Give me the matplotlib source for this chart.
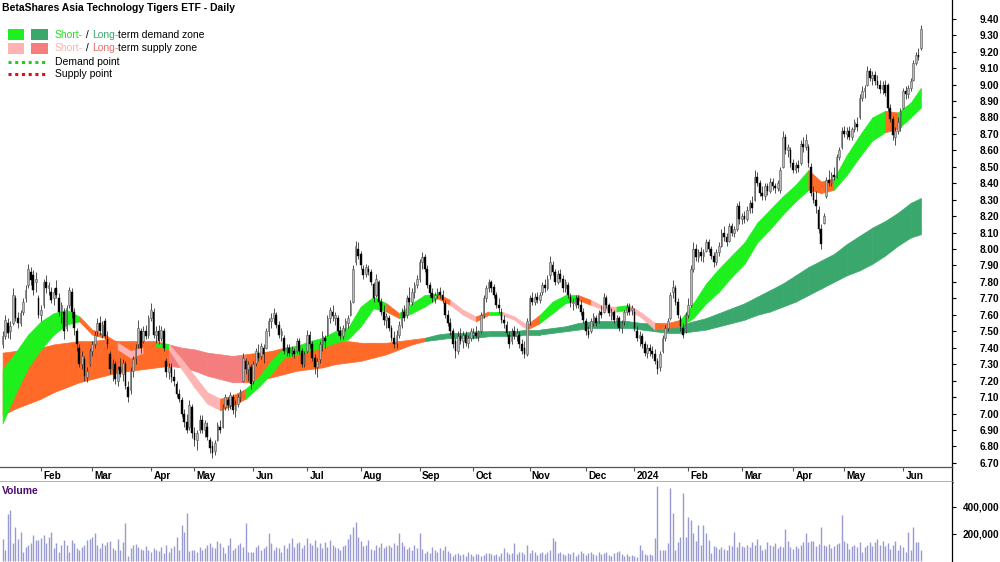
import matplotlib
matplotlib.use("Agg")
import matplotlib.pyplot as plt
from matplotlib.lines import Line2D
from matplotlib.patches import Rectangle
import numpy as np
import pandas as pd

plt.rcParams["font.family"] = ["Liberation Sans", "DejaVu Sans"]

# daily candles, one row of values per month (Jan 2023 .. Jun 2024)
OPEN = [
    7.42, 7.47, 7.55, 7.50, 7.55, 7.70, 7.58, 7.55, 7.62, 7.70, 7.78, 7.86, 7.84, 7.80, 7.70,
    7.60, 7.66, 7.80, 7.76, 7.74, 7.70, 7.76, 7.70, 7.62, 7.62, 7.52, 7.66, 7.74, 7.62, 7.50, 7.40, 7.30, 7.33, 7.22, 7.30,
    7.38, 7.42, 7.50, 7.55, 7.48, 7.56, 7.45, 7.36, 7.27, 7.30, 7.20, 7.28, 7.24, 7.30, 7.16, 7.14, 7.26, 7.34, 7.42, 7.50, 7.44, 7.50, 7.48,
    7.58, 7.62, 7.48, 7.50, 7.46, 7.50, 7.32, 7.25, 7.28, 7.22, 7.18, 7.12, 7.08, 7.00, 6.95, 6.92, 7.04,
    6.88, 6.84, 6.90, 6.96, 6.90, 6.92, 6.84, 6.80, 6.77, 6.84, 6.92, 6.92, 7.04, 7.08, 7.05, 7.10, 7.02, 7.06, 7.10, 7.20, 7.32, 7.27, 7.28,
    7.20, 7.31, 7.37, 7.35, 7.40, 7.40, 7.50, 7.56, 7.58, 7.60, 7.54, 7.48, 7.46, 7.38, 7.40, 7.37, 7.38, 7.38, 7.44, 7.38, 7.30,
    7.38, 7.48, 7.42, 7.34, 7.28, 7.33, 7.42, 7.46, 7.48, 7.58, 7.62, 7.58, 7.58, 7.50, 7.47, 7.52, 7.55, 7.60, 7.68, 7.92, 8.00,
    7.97, 7.88, 7.85, 7.88, 7.86, 7.79, 7.72, 7.80, 7.68, 7.62, 7.57, 7.58, 7.52, 7.46, 7.43, 7.48, 7.54, 7.62, 7.60, 7.70, 7.68, 7.74, 7.78,
    7.82, 7.92, 7.95, 7.88, 7.78, 7.73, 7.70, 7.72, 7.74, 7.72, 7.67, 7.60, 7.55, 7.50, 7.44, 7.38, 7.47, 7.44, 7.48, 7.43, 7.46,
    7.48, 7.49, 7.47, 7.50, 7.60, 7.70, 7.76, 7.80, 7.77, 7.72, 7.66, 7.62, 7.57, 7.54, 7.48, 7.44, 7.50, 7.47, 7.48, 7.42, 7.40, 7.36,
    7.56, 7.70, 7.68, 7.71, 7.69, 7.74, 7.78, 7.76, 7.84, 7.90, 7.86, 7.80, 7.85, 7.82, 7.76, 7.78, 7.71, 7.67, 7.66, 7.70, 7.66, 7.62,
    7.56, 7.50, 7.50, 7.55, 7.58, 7.56, 7.62, 7.62, 7.70, 7.66, 7.60, 7.62, 7.56, 7.58, 7.52, 7.56, 7.62, 7.65, 7.63,
    7.62, 7.50, 7.46, 7.47, 7.42, 7.37, 7.40, 7.38, 7.36, 7.32, 7.28, 7.38, 7.46, 7.52, 7.58, 7.74, 7.76, 7.68, 7.58, 7.52, 7.50,
    7.60, 7.66, 7.88, 8.00, 7.95, 7.98, 7.96, 7.99, 8.04, 8.00, 7.96, 7.92, 7.98, 8.02, 8.10, 8.07, 8.05, 8.14, 8.10, 8.12, 8.26,
    8.18, 8.20, 8.18, 8.24, 8.28, 8.30, 8.44, 8.40, 8.34, 8.32, 8.38, 8.35, 8.41, 8.38, 8.37, 8.36, 8.50, 8.68, 8.60, 8.60,
    8.52, 8.48, 8.51, 8.52, 8.64, 8.62, 8.62, 8.50, 8.34, 8.30, 8.24, 8.12, 8.16, 8.32, 8.42, 8.40, 8.45, 8.44,
    8.56, 8.62, 8.72, 8.70, 8.72, 8.68, 8.73, 8.76, 8.80, 8.92, 8.96, 9.00, 9.08, 9.04, 9.06, 9.02, 9.00, 8.97, 9.00, 9.00, 8.86, 8.79, 8.68,
    8.72, 8.74, 8.86, 8.96, 8.94, 8.98, 9.03, 9.13, 9.18, 9.22,
]
HIGH = [
    7.50, 7.60, 7.58, 7.56, 7.76, 7.72, 7.62, 7.63, 7.70, 7.78, 7.91, 7.89, 7.87, 7.86, 7.72,
    7.66, 7.82, 7.84, 7.80, 7.77, 7.76, 7.81, 7.73, 7.68, 7.64, 7.66, 7.77, 7.76, 7.64, 7.52, 7.42, 7.38, 7.35, 7.28, 7.40,
    7.44, 7.50, 7.58, 7.59, 7.56, 7.58, 7.50, 7.38, 7.33, 7.32, 7.29, 7.34, 7.33, 7.32, 7.20, 7.28, 7.35, 7.42, 7.57, 7.52, 7.53, 7.54, 7.60,
    7.67, 7.64, 7.53, 7.54, 7.53, 7.52, 7.34, 7.31, 7.31, 7.27, 7.20, 7.15, 7.10, 7.03, 7.00, 7.08, 7.06,
    6.92, 6.90, 6.99, 6.99, 6.96, 6.95, 6.86, 6.83, 6.84, 6.95, 6.96, 7.06, 7.12, 7.10, 7.13, 7.12, 7.08, 7.12, 7.15, 7.37, 7.34, 7.32, 7.30,
    7.32, 7.40, 7.42, 7.43, 7.42, 7.52, 7.58, 7.61, 7.64, 7.62, 7.56, 7.52, 7.48, 7.42, 7.42, 7.41, 7.40, 7.46, 7.46, 7.40, 7.38,
    7.51, 7.50, 7.44, 7.36, 7.34, 7.44, 7.50, 7.48, 7.60, 7.65, 7.66, 7.62, 7.60, 7.53, 7.54, 7.58, 7.60, 7.69, 7.90, 8.05, 8.04,
    7.99, 7.90, 7.91, 7.90, 7.88, 7.80, 7.85, 7.81, 7.70, 7.66, 7.61, 7.60, 7.54, 7.50, 7.51, 7.56, 7.64, 7.66, 7.72, 7.77, 7.76, 7.80, 7.84,
    7.94, 7.98, 7.97, 7.90, 7.80, 7.76, 7.74, 7.76, 7.77, 7.75, 7.69, 7.63, 7.58, 7.52, 7.46, 7.50, 7.52, 7.50, 7.50, 7.48, 7.52,
    7.52, 7.53, 7.51, 7.62, 7.72, 7.78, 7.82, 7.81, 7.79, 7.74, 7.70, 7.64, 7.60, 7.56, 7.50, 7.52, 7.53, 7.52, 7.50, 7.45, 7.44, 7.58,
    7.72, 7.74, 7.73, 7.74, 7.74, 7.80, 7.82, 7.84, 7.96, 7.93, 7.88, 7.87, 7.88, 7.84, 7.82, 7.80, 7.73, 7.70, 7.72, 7.72, 7.69, 7.64,
    7.58, 7.53, 7.58, 7.61, 7.60, 7.63, 7.66, 7.73, 7.72, 7.67, 7.64, 7.63, 7.60, 7.59, 7.57, 7.63, 7.67, 7.67, 7.66,
    7.64, 7.53, 7.50, 7.49, 7.44, 7.42, 7.42, 7.41, 7.39, 7.34, 7.38, 7.48, 7.54, 7.58, 7.74, 7.81, 7.78, 7.70, 7.60, 7.55, 7.62,
    7.70, 7.90, 8.04, 8.03, 8.00, 8.01, 8.00, 8.06, 8.06, 8.02, 7.98, 8.00, 8.04, 8.12, 8.14, 8.10, 8.16, 8.16, 8.14, 8.28, 8.29,
    8.22, 8.23, 8.26, 8.30, 8.32, 8.48, 8.47, 8.42, 8.38, 8.40, 8.40, 8.43, 8.43, 8.40, 8.42, 8.50, 8.72, 8.70, 8.64, 8.62,
    8.55, 8.53, 8.54, 8.66, 8.68, 8.70, 8.64, 8.52, 8.38, 8.35, 8.26, 8.15, 8.22, 8.44, 8.48, 8.47, 8.50, 8.58,
    8.62, 8.74, 8.75, 8.74, 8.75, 8.74, 8.79, 8.80, 8.94, 8.99, 9.00, 9.11, 9.10, 9.08, 9.08, 9.06, 9.03, 9.02, 9.03, 9.01, 8.88, 8.81, 8.74,
    8.80, 8.86, 8.98, 8.99, 9.00, 9.04, 9.15, 9.20, 9.22, 9.36,
]
LOW = [
    7.40, 7.45, 7.46, 7.45, 7.54, 7.56, 7.52, 7.53, 7.60, 7.68, 7.76, 7.78, 7.72, 7.74, 7.58,
    7.56, 7.64, 7.73, 7.72, 7.67, 7.66, 7.70, 7.59, 7.55, 7.45, 7.50, 7.64, 7.58, 7.48, 7.38, 7.28, 7.27, 7.20, 7.19, 7.29,
    7.35, 7.40, 7.47, 7.48, 7.46, 7.45, 7.40, 7.24, 7.20, 7.18, 7.17, 7.22, 7.20, 7.15, 7.07, 7.12, 7.22, 7.30, 7.40, 7.37, 7.43, 7.45, 7.46,
    7.56, 7.46, 7.43, 7.42, 7.44, 7.38, 7.22, 7.21, 7.19, 7.17, 7.10, 7.07, 6.98, 6.92, 6.88, 6.90, 6.85,
    6.80, 6.78, 6.88, 6.88, 6.86, 6.84, 6.76, 6.73, 6.75, 6.83, 6.88, 6.91, 7.02, 7.02, 7.03, 7.00, 6.98, 7.04, 7.07, 7.19, 7.24, 7.20, 7.15,
    7.18, 7.29, 7.32, 7.33, 7.31, 7.39, 7.47, 7.52, 7.55, 7.52, 7.46, 7.44, 7.36, 7.35, 7.35, 7.35, 7.34, 7.37, 7.36, 7.28, 7.28,
    7.37, 7.40, 7.32, 7.24, 7.22, 7.31, 7.38, 7.40, 7.47, 7.55, 7.56, 7.54, 7.48, 7.45, 7.45, 7.50, 7.52, 7.59, 7.67, 7.90, 7.94,
    7.88, 7.82, 7.83, 7.84, 7.78, 7.68, 7.71, 7.66, 7.60, 7.54, 7.52, 7.50, 7.44, 7.40, 7.40, 7.46, 7.52, 7.56, 7.58, 7.66, 7.66, 7.70, 7.76,
    7.80, 7.88, 7.86, 7.76, 7.71, 7.68, 7.67, 7.70, 7.70, 7.67, 7.58, 7.53, 7.48, 7.40, 7.34, 7.36, 7.42, 7.40, 7.41, 7.40, 7.44,
    7.45, 7.46, 7.44, 7.49, 7.58, 7.68, 7.74, 7.74, 7.70, 7.64, 7.61, 7.55, 7.52, 7.47, 7.40, 7.42, 7.45, 7.44, 7.40, 7.36, 7.34, 7.35,
    7.54, 7.66, 7.66, 7.67, 7.67, 7.72, 7.74, 7.75, 7.82, 7.84, 7.78, 7.79, 7.80, 7.74, 7.74, 7.70, 7.65, 7.63, 7.64, 7.64, 7.60, 7.55,
    7.48, 7.46, 7.49, 7.53, 7.53, 7.55, 7.58, 7.61, 7.64, 7.59, 7.57, 7.55, 7.53, 7.50, 7.49, 7.54, 7.60, 7.60, 7.60,
    7.50, 7.44, 7.41, 7.40, 7.35, 7.34, 7.35, 7.34, 7.30, 7.24, 7.26, 7.37, 7.44, 7.50, 7.57, 7.70, 7.66, 7.58, 7.50, 7.46, 7.49,
    7.58, 7.65, 7.86, 7.93, 7.92, 7.93, 7.92, 7.98, 7.98, 7.94, 7.89, 7.90, 7.96, 8.01, 8.05, 8.02, 8.04, 8.08, 8.07, 8.11, 8.15,
    8.15, 8.16, 8.17, 8.22, 8.22, 8.29, 8.38, 8.32, 8.30, 8.30, 8.33, 8.34, 8.36, 8.34, 8.35, 8.34, 8.49, 8.58, 8.56, 8.50,
    8.46, 8.46, 8.47, 8.51, 8.59, 8.60, 8.50, 8.32, 8.28, 8.22, 8.10, 8.00, 8.15, 8.31, 8.38, 8.38, 8.42, 8.43,
    8.54, 8.61, 8.68, 8.67, 8.66, 8.66, 8.71, 8.72, 8.79, 8.90, 8.92, 8.99, 9.02, 9.00, 9.00, 8.98, 8.95, 8.94, 8.93, 8.84, 8.77, 8.66, 8.63,
    8.70, 8.72, 8.85, 8.91, 8.92, 8.96, 9.02, 9.12, 9.15, 9.21,
]
CLOSE = [
    7.47, 7.57, 7.49, 7.53, 7.72, 7.58, 7.55, 7.61, 7.68, 7.75, 7.88, 7.81, 7.75, 7.82, 7.60,
    7.63, 7.80, 7.76, 7.78, 7.69, 7.74, 7.72, 7.62, 7.66, 7.50, 7.64, 7.75, 7.62, 7.52, 7.42, 7.30, 7.35, 7.23, 7.26, 7.38,
    7.42, 7.48, 7.55, 7.50, 7.54, 7.47, 7.42, 7.27, 7.31, 7.21, 7.27, 7.24, 7.31, 7.17, 7.10, 7.26, 7.33, 7.40, 7.52, 7.40, 7.50, 7.47, 7.58,
    7.63, 7.48, 7.50, 7.44, 7.51, 7.40, 7.25, 7.28, 7.22, 7.20, 7.12, 7.09, 7.00, 6.95, 6.90, 7.05, 6.88,
    6.84, 6.88, 6.96, 6.90, 6.94, 6.86, 6.79, 6.76, 6.82, 6.93, 6.90, 7.04, 7.10, 7.05, 7.11, 7.02, 7.06, 7.10, 7.13, 7.34, 7.27, 7.30, 7.18,
    7.30, 7.38, 7.34, 7.41, 7.36, 7.50, 7.56, 7.58, 7.61, 7.54, 7.48, 7.50, 7.38, 7.40, 7.37, 7.39, 7.36, 7.44, 7.38, 7.30, 7.36,
    7.48, 7.42, 7.34, 7.28, 7.32, 7.42, 7.47, 7.44, 7.58, 7.63, 7.59, 7.60, 7.50, 7.47, 7.52, 7.56, 7.58, 7.67, 7.88, 8.02, 7.96,
    7.90, 7.84, 7.89, 7.86, 7.80, 7.70, 7.82, 7.68, 7.62, 7.57, 7.59, 7.52, 7.46, 7.42, 7.48, 7.54, 7.62, 7.58, 7.70, 7.68, 7.74, 7.78, 7.82,
    7.92, 7.95, 7.88, 7.78, 7.73, 7.70, 7.72, 7.74, 7.72, 7.69, 7.60, 7.55, 7.50, 7.42, 7.38, 7.47, 7.44, 7.48, 7.43, 7.46, 7.50,
    7.49, 7.47, 7.50, 7.60, 7.70, 7.76, 7.80, 7.76, 7.72, 7.66, 7.64, 7.57, 7.55, 7.49, 7.42, 7.50, 7.47, 7.49, 7.42, 7.38, 7.36, 7.56,
    7.70, 7.68, 7.71, 7.69, 7.72, 7.78, 7.76, 7.82, 7.92, 7.86, 7.80, 7.85, 7.82, 7.76, 7.80, 7.72, 7.67, 7.68, 7.70, 7.66, 7.62, 7.57,
    7.50, 7.48, 7.56, 7.59, 7.55, 7.61, 7.60, 7.71, 7.66, 7.61, 7.62, 7.57, 7.58, 7.52, 7.55, 7.62, 7.65, 7.62, 7.64,
    7.52, 7.46, 7.48, 7.42, 7.37, 7.40, 7.38, 7.36, 7.32, 7.27, 7.36, 7.46, 7.52, 7.56, 7.72, 7.77, 7.68, 7.60, 7.53, 7.48, 7.60,
    7.66, 7.88, 8.00, 7.95, 7.98, 7.96, 7.98, 8.04, 8.00, 7.96, 7.92, 7.98, 8.02, 8.10, 8.07, 8.04, 8.14, 8.10, 8.12, 8.26, 8.18,
    8.20, 8.18, 8.24, 8.28, 8.25, 8.44, 8.40, 8.34, 8.32, 8.38, 8.35, 8.41, 8.38, 8.37, 8.40, 8.48, 8.68, 8.60, 8.62, 8.52,
    8.48, 8.51, 8.49, 8.64, 8.62, 8.66, 8.52, 8.34, 8.30, 8.26, 8.12, 8.03, 8.20, 8.42, 8.40, 8.45, 8.44, 8.56,
    8.60, 8.72, 8.70, 8.72, 8.68, 8.73, 8.77, 8.74, 8.92, 8.96, 8.98, 9.08, 9.04, 9.06, 9.02, 9.00, 8.97, 9.00, 8.95, 8.86, 8.79, 8.69, 8.72,
    8.77, 8.84, 8.96, 8.94, 8.98, 9.02, 9.13, 9.18, 9.17, 9.34,
]
# volume in thousands of units
VOLUME_K = [
    165, 80, 350, 375, 130, 255, 165, 215, 70, 105, 120, 130, 190, 155, 155,
    170, 190, 130, 180, 215, 95, 130, 70, 120, 155, 115, 70, 155, 130, 95, 80, 105, 120, 155, 165,
    180, 205, 120, 95, 130, 120, 140, 145, 95, 80, 165, 80, 140, 280, 35, 95, 120, 125, 100, 90, 80, 110, 85,
    70, 95, 85, 75, 100, 60, 120, 70, 95, 110, 180, 80, 265, 215, 353, 75, 85,
    80, 70, 100, 80, 95, 120, 130, 100, 95, 145, 130, 100, 60, 120, 168, 80, 95, 120, 130, 100, 279, 70, 65,
    70, 106, 118, 80, 95, 110, 204, 130, 81, 106, 94, 70, 118, 95, 130, 168, 106, 130, 143, 94, 118,
    168, 130, 118, 155, 106, 130, 95, 140, 106, 155, 120, 100, 95, 85, 110, 120, 160, 200, 254, 290, 180,
    150, 110, 120, 155, 90, 80, 120, 100, 130, 95, 110, 120, 100, 130, 120, 204, 140, 110, 90, 100, 85, 120, 95,
    204, 90, 60, 75, 60, 100, 80, 70, 95, 85, 110, 75, 60, 40, 50, 60, 45, 55, 40, 70, 55,
    40, 55, 50, 35, 45, 60, 60, 50, 45, 55, 40, 60, 95, 70, 55, 60, 130, 50, 65, 70, 50, 118,
    60, 85, 70, 45, 60, 70, 55, 65, 80, 168, 145, 60, 70, 50, 45, 60, 55, 70, 40, 50, 75, 60,
    45, 60, 70, 55, 45, 65, 50, 60, 70, 45, 40, 60, 65, 75, 50, 40, 55, 40, 45,
    40, 30, 118, 80, 50, 45, 55, 45, 168, 555, 80, 85, 85, 130, 538, 353, 80, 140, 175, 501, 175,
    328, 303, 204, 150, 267, 120, 267, 204, 155, 60, 110, 100, 90, 100, 90, 85, 120, 110, 217, 100, 140,
    110, 100, 120, 100, 140, 120, 165, 120, 80, 90, 140, 120, 110, 130, 95, 110, 100, 240, 150, 100,
    90, 110, 95, 120, 140, 205, 140, 145, 150, 110, 125, 255, 120, 110, 125, 95, 110, 125,
    130, 340, 150, 130, 90, 110, 120, 100, 140, 70, 100, 120, 140, 110, 140, 160, 120, 150, 110, 130, 90, 120, 150,
    80, 120, 100, 70, 215, 80, 250, 140, 140, 80,
]

# short-term and long-term zones, read every 5th bar
ZONE_BAR = [0, 5, 10, 15, 20, 25, 30, 35, 40, 45, 50, 55, 60, 65, 70, 75, 80, 85, 90, 95,
            100, 105, 110, 115, 120, 125, 130, 135, 140, 145, 150, 155, 160, 165, 170, 175,
            180, 185, 190, 195, 200, 205, 210, 215, 220, 225, 230, 235, 240, 245, 250, 255,
            260, 265, 270, 275, 280, 285, 290, 295, 300, 305, 310, 315, 320, 325, 330, 335,
            340, 345, 350, 355, 359]
ST_TOP = [7.27, 7.37, 7.48, 7.56, 7.61, 7.63, 7.59, 7.51, 7.48, 7.43, 7.38, 7.40, 7.43, 7.42,
          7.33, 7.23, 7.13, 7.09, 7.11, 7.15, 7.22, 7.32, 7.40, 7.41, 7.44, 7.46, 7.50, 7.52,
          7.65, 7.71, 7.67, 7.61, 7.67, 7.72, 7.73, 7.69, 7.63, 7.59, 7.62, 7.62, 7.59, 7.54,
          7.60, 7.68, 7.72, 7.72, 7.69, 7.65, 7.65, 7.66, 7.61, 7.55, 7.55, 7.57, 7.67, 7.79,
          7.88, 7.96, 8.04, 8.16, 8.24, 8.32, 8.39, 8.48, 8.41, 8.43, 8.57, 8.69, 8.80, 8.84,
          8.83, 8.89, 8.98]
ST_BOT = [6.94, 7.12, 7.28, 7.39, 7.48, 7.54, 7.56, 7.48, 7.46, 7.39, 7.34, 7.37, 7.41, 7.39,
          7.27, 7.16, 7.06, 7.02, 7.05, 7.09, 7.16, 7.24, 7.34, 7.36, 7.38, 7.40, 7.43, 7.45,
          7.53, 7.64, 7.62, 7.58, 7.61, 7.65, 7.70, 7.66, 7.60, 7.56, 7.60, 7.60, 7.57, 7.51,
          7.55, 7.61, 7.67, 7.69, 7.66, 7.63, 7.62, 7.63, 7.58, 7.51, 7.52, 7.53, 7.58, 7.67,
          7.74, 7.83, 7.91, 8.04, 8.12, 8.21, 8.29, 8.36, 8.34, 8.36, 8.45, 8.56, 8.66, 8.71,
          8.73, 8.80, 8.86]
ST_STATE = ("ggggggooop" "pogppppoog" "gggggggggg" "ogggoppogp"
            "pogggoppgp" "pooggggggg" "gggooggggo" "ggg")
LT_TOP = [7.37, 7.38, 7.39, 7.40, 7.42, 7.43, 7.44, 7.44, 7.45, 7.44, 7.44, 7.44, 7.44, 7.42,
          7.40, 7.39, 7.37, 7.36, 7.35, 7.36, 7.37, 7.38, 7.40, 7.41, 7.42, 7.43, 7.44, 7.44,
          7.43, 7.43, 7.43, 7.44, 7.45, 7.46, 7.48, 7.49, 7.49, 7.50, 7.50, 7.50, 7.50, 7.51,
          7.51, 7.52, 7.53, 7.55, 7.56, 7.56, 7.56, 7.56, 7.55, 7.55, 7.54, 7.54, 7.56, 7.58,
          7.61, 7.64, 7.67, 7.71, 7.75, 7.79, 7.84, 7.89, 7.93, 7.97, 8.03, 8.08, 8.13, 8.17,
          8.22, 8.28, 8.31]
LT_BOT = [6.99, 7.03, 7.06, 7.09, 7.13, 7.16, 7.19, 7.21, 7.23, 7.25, 7.26, 7.27, 7.28, 7.29,
          7.28, 7.26, 7.23, 7.21, 7.19, 7.19, 7.20, 7.22, 7.24, 7.26, 7.27, 7.28, 7.30, 7.31,
          7.32, 7.34, 7.36, 7.39, 7.42, 7.44, 7.45, 7.46, 7.46, 7.46, 7.47, 7.47, 7.47, 7.48,
          7.48, 7.49, 7.50, 7.51, 7.52, 7.52, 7.52, 7.52, 7.51, 7.50, 7.49, 7.49, 7.50, 7.51,
          7.53, 7.55, 7.57, 7.60, 7.62, 7.65, 7.68, 7.72, 7.76, 7.80, 7.84, 7.87, 7.91, 7.96,
          8.02, 8.07, 8.09]
LT_STATE = "o" * 13 + "r" * 6 + "o" * 14 + "d" * 40

HOLIDAYS = ["2023-01-26", "2023-04-07", "2023-04-10", "2023-04-25", "2023-06-12",
            "2023-12-25", "2023-12-26", "2024-01-01", "2024-01-26", "2024-03-29",
            "2024-04-01", "2024-04-25", "2024-06-10"]

ZONE_COLORS = {"g": "#1ef01e", "d": "#3aa86c", "p": "#ffb4b4", "r": "#f47d7d", "o": "#ff6a28"}
UP_FILL = "#b8b8b8"
UP_EDGE = "#555555"
VOL_COLOR = "#9a9ad2"
INK = "black"

W, H = 1000, 562


def fbox(x0, y0, x1, y1):
    return [x0 / W, 1 - y1 / H, (x1 - x0) / W, (y1 - y0) / H]


dates = pd.bdate_range("2023-01-10", "2024-06-17")
dates = dates[~dates.isin(pd.to_datetime(HOLIDAYS))]
n = len(CLOSE)
dates = dates[:n]
xs = np.arange(n)
o, h, l, c = (np.array(a) for a in (OPEN, HIGH, LOW, CLOSE))

fig = plt.figure(figsize=(10, 5.62), dpi=100)
ax = fig.add_axes(fbox(0, 0, 952, 467))
axd = fig.add_axes(fbox(0, 467, 952, 482))
axv = fig.add_axes(fbox(0, 482, 952, 562))
xlim = (-2.6 / 2.558, (952 - 2.6) / 2.558)

# --- zones ---
zb = np.array(ZONE_BAR)
for top, bot, state, z in ((LT_TOP, LT_BOT, LT_STATE, 1), (ST_TOP, ST_BOT, ST_STATE, 2)):
    for k in range(len(zb) - 1):
        col = ZONE_COLORS[state[k]]
        ax.fill_between(zb[k:k + 2], bot[k:k + 2], top[k:k + 2], color=col,
                        lw=0.5, edgecolor=col, zorder=z)

# --- candles ---
up = c >= o
ax.vlines(xs, l, h, color="#222222", lw=0.55, zorder=3)
body_lo = np.minimum(o, c)
body_h = np.maximum(np.abs(c - o), 0.006)
ax.bar(xs[up], body_h[up], bottom=body_lo[up], width=0.66, color=UP_FILL,
       edgecolor=UP_EDGE, lw=0.4, zorder=4)
ax.bar(xs[~up], body_h[~up], bottom=body_lo[~up], width=0.66, color=INK,
       edgecolor=INK, lw=0.3, zorder=4)

ax.set_xlim(*xlim)
ax.set_ylim(9.40 - (467 - 18.7) / 164.5, 9.40 + 18.7 / 164.5)
ax.set_xticks([])
ax.yaxis.tick_right()
ax.set_yticks(np.round(np.arange(6.70, 9.401, 0.10), 2))
ax.yaxis.set_major_formatter(matplotlib.ticker.FormatStrFormatter("%.2f"))
ax.tick_params(axis="y", length=3, width=0.8, pad=31, labelsize=7.2)
for t in ax.get_yticklabels():
    t.set_fontweight("bold")
    t.set_horizontalalignment("right")
for s in ("left", "top", "bottom"):
    ax.spines[s].set_visible(False)
ax.spines["right"].set_linewidth(0.9)

# --- month strip ---
axd.set_xlim(*xlim)
axd.set_ylim(0, 1)
axd.set_xticks([])
axd.set_yticks([])
axd.spines["left"].set_visible(False)
axd.spines["top"].set_color("#555555")
axd.spines["top"].set_linewidth(0.9)
axd.spines["bottom"].set_color("#999999")
axd.spines["bottom"].set_linewidth(1.8)
axd.spines["right"].set_linewidth(0.9)
months = pd.Series(xs, index=dates).groupby(dates.to_period("M")).first()
for per, pos in months.items():
    if pos == 0:
        continue
    label = "2024" if (per.year == 2024 and per.month == 1) else per.strftime("%b")
    axd.vlines(pos, 0.72, 1.0, color="#555555", lw=0.8)
    axd.text(pos + 0.9, 0.42, label, fontsize=7.2, fontweight="bold", va="center", ha="left")

# --- volume ---
axv.vlines(xs, 0, np.array(VOLUME_K) * 1000, color=VOL_COLOR, lw=1.0)
axv.set_xlim(*xlim)
axv.set_ylim(-7400, 585000)
axv.set_xticks([])
axv.yaxis.tick_right()
axv.set_yticks([200000, 400000])
axv.set_yticklabels(["200,000", "400,000"])
axv.tick_params(axis="y", length=3, width=0.8, pad=31, labelsize=7.2)
for t in axv.get_yticklabels():
    t.set_fontweight("bold")
    t.set_horizontalalignment("right")
for s in ("left", "top", "bottom"):
    axv.spines[s].set_visible(False)
axv.spines["right"].set_linewidth(0.9)
axv.text(2 / 952, 1 - 9 / 80, "Volume", transform=axv.transAxes, color="#4b0c6e",
         fontsize=7.5, fontweight="bold", va="center", ha="left")

# --- title and legend ---
fig.text(2 / W, 1 - 8 / H, "BetaShares Asia Technology Tigers ETF - Daily",
         fontsize=7.5, fontweight="bold", va="center", ha="left")

for (x0, x1), (y0, y1), col in (((8, 24), (29, 40), ZONE_COLORS["g"]),
                                ((31, 48), (29, 40), ZONE_COLORS["d"]),
                                ((8, 24), (43, 54), ZONE_COLORS["p"]),
                                ((31, 48), (43, 54), ZONE_COLORS["r"])):
    fig.add_artist(Rectangle((x0 / W, 1 - y1 / H), (x1 - x0) / W, (y1 - y0) / H,
                             transform=fig.transFigure, color=col, lw=0))
for yy, col in ((62, "#22cc22"), (74, "#dd1111")):
    fig.add_artist(Line2D([8 / W, 48 / W], [1 - yy / H] * 2, transform=fig.transFigure,
                          color=col, lw=2.2, linestyle=(0, (1, 1.2))))

renderer = fig.canvas.get_renderer()


def rich(x_px, y_px, pieces, size=7.5):
    for s, col in pieces:
        t = fig.text(x_px / W, 1 - y_px / H, s, color=col, fontsize=size, va="center", ha="left")
        x_px += t.get_window_extent(renderer).width


rich(55, 34.5, [("Short-", "#22dd22"), (" / ", INK), ("Long-", "#3aa86c"), ("term demand zone", INK)])
rich(55, 48, [("Short-", "#ffb0b0"), (" / ", INK), ("Long-", "#f06e6e"), ("term supply zone", INK)])
rich(55, 62, [("Demand point", INK)])
rich(55, 74, [("Supply point", INK)])

fig.savefig("out.png", dpi=100, facecolor="white")
